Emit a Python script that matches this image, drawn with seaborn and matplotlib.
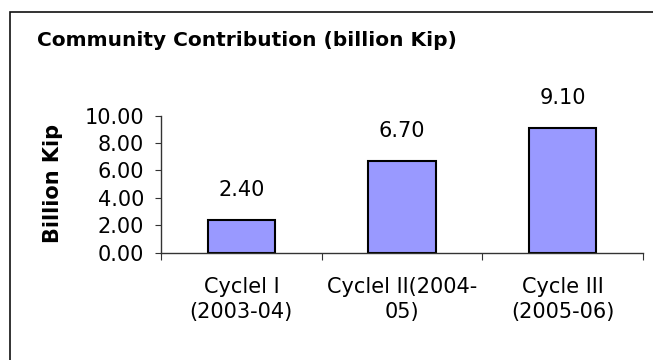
import matplotlib
matplotlib.use("Agg")
import matplotlib.pyplot as plt
from matplotlib.patches import Rectangle
from matplotlib.ticker import FixedLocator, FormatStrFormatter
import seaborn as sns
import pandas as pd

# Data
cycles = ["Cyclel I\n(2003-04)", "Cyclel II(2004-\n05)", "Cycle III\n(2005-06)"]
contribution = [2.40, 6.70, 9.10]
y_ticks = [0, 2, 4, 6, 8, 10]

title = "Community Contribution (billion Kip)"
y_label = "Billion Kip"

sns.set_theme(style="white")
plt.rcParams["font.family"] = ["DejaVu Sans"]

W, H = 653, 360
fig = plt.figure(figsize=(W / 100, H / 100), dpi=100)
ax = fig.add_axes([161 / W, 1 - 252.7 / H, (643 - 161) / W, (252.7 - 115.5) / H])

df = pd.DataFrame({"cycle": cycles, "value": contribution})
sns.barplot(data=df, x="cycle", y="value", ax=ax, color="#9999FF", saturation=1,
            edgecolor="black", linewidth=1.5, width=0.42)

ax.set_xlim(-0.5, 2.5)
ax.set_ylim(0, 10)
ax.set_yticks(y_ticks)
ax.yaxis.set_major_formatter(FormatStrFormatter("%.2f"))
ax.set_xlabel("")
ax.set_ylabel("")

for s in ["top", "right"]:
    ax.spines[s].set_visible(False)
for s in ["left", "bottom"]:
    ax.spines[s].set_color("#333333")
    ax.spines[s].set_linewidth(1.0)

ax.tick_params(axis="y", which="major", direction="out", length=4.3, width=0.8,
               color="#333333", pad=8, labelsize=15, left=True, labelcolor="black")
ax.tick_params(axis="x", which="major", length=0, pad=17.5, labelsize=15, labelcolor="black")
for lbl in ax.get_xticklabels():
    lbl.set_linespacing(1.3)
ax.xaxis.set_minor_locator(FixedLocator([-0.5, 0.5, 1.5, 2.5]))
ax.tick_params(axis="x", which="minor", direction="out", length=5, width=0.8,
               color="#333333", bottom=True)

# Value labels above each bar
for i, v in enumerate(contribution):
    ax.annotate(f"{v:.2f}", (i, v), xytext=(0, 21.6), textcoords="offset points",
                ha="center", va="center", fontsize=15, color="black")

fig.text(247 / W, 1 - 46 / H, title, ha="center", va="baseline",
         fontsize=14.5, fontweight="bold", color="black")
fig.text(53 / W, 1 - 183 / H, y_label, rotation=90, ha="center", va="center",
         fontsize=15, fontweight="bold", color="black")

# Outer chart frame
frame = Rectangle((10 / W, -0.2), 1.2, (1 - 12 / H) + 0.2, transform=fig.transFigure,
                  fill=False, edgecolor="#111111", linewidth=1.2, clip_on=False)
fig.patches.append(frame)

fig.savefig("out.png", dpi=100, facecolor="white")
